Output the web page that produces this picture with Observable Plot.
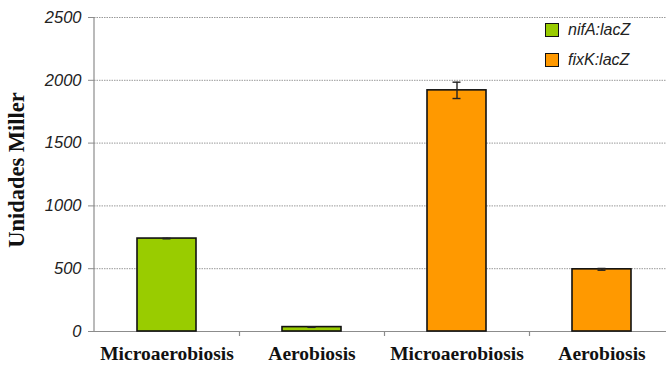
<!DOCTYPE html>
<html>
<head>
<meta charset="utf-8">
<script src="https://cdn.jsdelivr.net/npm/d3@7"></script>
<script src="https://cdn.jsdelivr.net/npm/@observablehq/plot@0.6"></script>
<style>
  body { margin: 0; background: #fff; }
  #chart { position: relative; width: 666px; height: 365px; background: #fff; }
  #chart svg g[aria-label="y-axis tick label"] text { font-size: 16.5px; font-style: italic; font-family: "Liberation Sans", Arial, sans-serif; fill: #222; }
  #chart svg g[aria-label="x-axis tick label"] text { font-size: 19.5px; font-weight: bold; font-family: "Liberation Serif", "Times New Roman", serif; fill: #111; }
  #ytitle { position: absolute; left: 17px; top: 170px; transform: translate(-50%, -50%) rotate(-90deg); white-space: nowrap;
    font-family: "Liberation Serif", "Times New Roman", serif; font-weight: bold; font-size: 22.5px; color: #111; line-height: 1; }
  #legend { position: absolute; left: 545px; top: 22px; font-family: "Liberation Sans", Arial, sans-serif; font-style: italic; font-size: 16px; color: #222; }
  #legend .item { display: flex; align-items: center; height: 15px; margin-bottom: 15px; }
  #legend .sw { width: 12px; height: 12px; border: 1.6px solid #111; margin-right: 9px; box-sizing: content-box; }
</style>
</head>
<body>
<div id="chart"><div id="ytitle"></div><div id="legend"></div></div>
<script>
// ---- data ----
const keys = ["c1", "c2", "c3", "c4"];
const conditions = ["Microaerobiosis", "Aerobiosis", "Microaerobiosis", "Aerobiosis"];
const strains = ["nifA:lacZ", "nifA:lacZ", "fixK:lacZ", "fixK:lacZ"];
const values = [740, 35, 1920, 495];
const errors = [2, 2, 65, 7];
const strainNames = ["nifA:lacZ", "fixK:lacZ"];
const strainColors = ["#99cc00", "#ff9900"];
const yTicks = [0, 500, 1000, 1500, 2000, 2500];
const yTitle = "Unidades Miller";

const data = keys.map((k, i) => ({
  key: k, condition: conditions[i], strain: strains[i], value: values[i], error: errors[i]
}));

const xRange = [94, 674];
const step = (xRange[1] - xRange[0]) / keys.length;

const leftAxisLine = (index, scales, values, dimensions) => {
  const {marginLeft, marginTop, height, marginBottom} = dimensions;
  const g = d3.create("svg:line")
    .attr("x1", marginLeft).attr("x2", marginLeft)
    .attr("y1", marginTop).attr("y2", height - marginBottom)
    .attr("stroke", "#8c8c8c").attr("stroke-width", 1.2);
  return g.node();
};

const plot = Plot.plot({
  width: 666,
  height: 365,
  marginLeft: 94,
  marginRight: 0,
  marginTop: 17,
  marginBottom: 34,
  style: { background: "#fff", overflow: "visible" },
  x: { domain: keys, range: xRange, paddingInner: 0.593, paddingOuter: 0.2965, axis: null },
  y: { domain: [0, 2500], axis: null },
  color: { domain: strainNames, range: strainColors },
  marks: [
    Plot.ruleY(yTicks.filter(t => t > 0), { stroke: "#999", strokeWidth: 1, strokeDasharray: "1.5,1" }),
    Plot.ruleY([0], { stroke: "#8c8c8c", strokeWidth: 1.2 }),
    leftAxisLine,
    Plot.axisY({
      ticks: yTicks, tickSize: 6, tickPadding: 7, stroke: "#8c8c8c",
      tickFormat: d => String(d), label: null
    }),
    Plot.ruleX(keys.slice(1), { x: d => d, dx: -step / 2, y1: 0, y2: 0, insetBottom: -5, stroke: "#8c8c8c", strokeWidth: 1.2 }),
    Plot.axisX({
      tickSize: 0, tickPadding: 15, label: null,
      tickFormat: k => conditions[keys.indexOf(k)]
    }),
    Plot.barY(data, { x: "key", y: "value", fill: "strain", stroke: "#111", strokeWidth: 1.6 }),
    Plot.ruleX(data, { x: "key", y1: d => d.value - d.error, y2: d => d.value + d.error, stroke: "#222", strokeWidth: 1.4 }),
    Plot.tickY(data, { x: "key", y: d => d.value + d.error, insetLeft: 25.5, insetRight: 25.5, stroke: "#222", strokeWidth: 1.4 }),
    Plot.tickY(data, { x: "key", y: d => d.value - d.error, insetLeft: 25.5, insetRight: 25.5, stroke: "#222", strokeWidth: 1.4 })
  ]
});

const chart = document.getElementById("chart");
chart.insertBefore(plot, chart.firstChild);
document.getElementById("ytitle").textContent = yTitle;

const legend = d3.select("#legend");
strainNames.forEach((s, i) => {
  const item = legend.append("div").attr("class", "item");
  item.append("div").attr("class", "sw").style("background", strainColors[i]);
  item.append("span").text(s);
});
</script>
</body>
</html>
